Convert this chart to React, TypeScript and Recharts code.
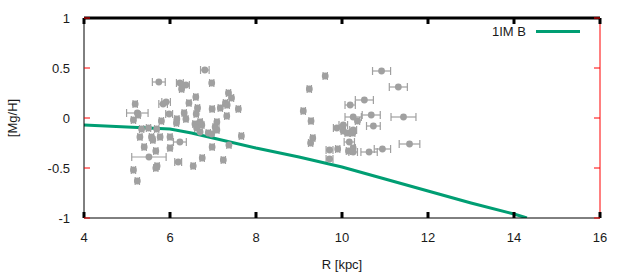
import React from 'react';
import { ComposedChart, Line, Scatter, XAxis, YAxis, ErrorBar, Legend } from 'recharts';

const xTicks = [4, 6, 8, 10, 12, 14, 16];
const yTicks = [-1, -0.5, 0, 0.5, 1];

const modelName = '1IM B';
const modelColor = '#009e73';
const modelR = [4, 5, 5.5, 6, 6.5, 7, 8, 9, 10, 11, 12, 13, 14, 14.3];
const modelMgH = [-0.07, -0.09, -0.1, -0.11, -0.15, -0.2, -0.3, -0.39, -0.49, -0.61, -0.73, -0.85, -0.96, -1.0];

const starR = [6.81, 5.74, 6.23, 6.37, 6.27, 6.97, 7.36, 7.43, 6.6, 5.19, 5.91, 5.84, 6.44, 7.29, 7.33, 6.64, 6.98, 7.17, 7.59, 5.24, 5.26, 5.98, 6.33, 6.61, 7.32, 5.15, 5.8, 6.16, 6.37, 6.15, 6.7, 6.58, 6.74, 7.09, 7.05, 6.62, 6.7, 5.34, 5.5, 5.69, 7.09, 6.89, 6.97, 5.3, 5.57, 5.77, 6.0, 5.6, 6.23, 7.66, 5.4, 6.0, 6.98, 7.37, 5.67, 5.51, 6.75, 7.24, 6.19, 6.54, 5.7, 5.67, 5.15, 5.24,
  10.92, 9.61, 11.31, 9.24, 10.52, 10.19, 9.1, 9.28, 11.43, 10.26, 10.36, 10.68, 10.73, 10.03, 9.88, 10.03, 10.12, 10.25, 10.26, 9.32, 9.27, 10.17, 11.57, 9.9, 9.71, 10.15, 10.26, 10.26, 10.63, 10.94, 9.71];
const starMgH = [0.48, 0.36, 0.35, 0.33, 0.29, 0.35, 0.25, 0.2, 0.21, 0.14, 0.16, 0.14, 0.15, 0.15, 0.13, 0.1, 0.09, 0.1, 0.09, 0.05, 0.03, 0.04, 0.05, 0.04, 0.02, -0.02, -0.03, -0.01, -0.01, -0.05, -0.04, -0.06, -0.07, -0.04, -0.09, -0.1, -0.14, -0.11, -0.1, -0.11, -0.12, -0.15, -0.16, -0.19, -0.19, -0.19, -0.19, -0.22, -0.24, -0.18, -0.29, -0.3, -0.29, -0.27, -0.33, -0.39, -0.4, -0.42, -0.44, -0.48, -0.48, -0.5, -0.52, -0.63,
  0.47, 0.42, 0.31, 0.29, 0.18, 0.13, 0.07, -0.03, 0.01, 0.01, -0.03, 0.03, -0.08, -0.07, -0.1, -0.13, -0.15, -0.15, -0.12, -0.2, -0.25, -0.24, -0.26, -0.31, -0.32, -0.33, -0.3, -0.34, -0.34, -0.31, -0.41];
const starRErr = [0.1, 0.15, 0.08, 0.08, 0.05, 0.05, 0.05, 0.05, 0.05, 0.05, 0.1, 0.1, 0.05, 0.05, 0.05, 0.05, 0.05, 0.05, 0.05, 0.25, 0.05, 0.08, 0.05, 0.05, 0.05, 0.05, 0.05, 0.05, 0.05, 0.05, 0.05, 0.05, 0.05, 0.05, 0.05, 0.05, 0.05, 0.05, 0.05, 0.05, 0.05, 0.05, 0.05, 0.05, 0.05, 0.05, 0.05, 0.05, 0.15, 0.05, 0.05, 0.05, 0.05, 0.05, 0.05, 0.4, 0.05, 0.05, 0.08, 0.05, 0.05, 0.05, 0.05, 0.05,
  0.21, 0.05, 0.21, 0.05, 0.21, 0.12, 0.05, 0.05, 0.29, 0.19, 0.05, 0.21, 0.16, 0.1, 0.08, 0.05, 0.05, 0.05, 0.08, 0.05, 0.05, 0.12, 0.24, 0.05, 0.08, 0.05, 0.05, 0.1, 0.19, 0.19, 0.08];

const modelData = modelR.map((x, i) => ({ x, y: modelMgH[i] }));
const starData = starR.map((x, i) => ({ x, y: starMgH[i], xErr: starRErr[i] }));

const FONT = '"Liberation Sans", Arial, sans-serif';
const TEXT = '#1a1a1a';
const FRAME = '#000';
const TICK_LEN = 6;
const XM = 14;
const YM = 14;

const BottomTick = (p: any) => (
  <g>
    <line x1={p.x} x2={p.x} y1={p.y - XM} y2={p.y - XM - TICK_LEN} stroke={FRAME} strokeWidth={3} />
    <text x={p.x} y={p.y} dy={10} textAnchor="middle" fontFamily={FONT} fontSize={13} fill={TEXT}>{p.payload.value}</text>
  </g>
);
const LeftTick = (p: any) => (
  <g>
    <line x1={p.x + YM} x2={p.x + YM + TICK_LEN} y1={p.y} y2={p.y} stroke="red" strokeWidth={1} />
    <text x={p.x} y={p.y} dy={4.5} textAnchor="end" fontFamily={FONT} fontSize={13} fill={TEXT}>{String(p.payload.value)}</text>
  </g>
);
const TopTick = (p: any) => (
  <line x1={p.x} x2={p.x} y1={p.y} y2={p.y + TICK_LEN} stroke={FRAME} strokeWidth={3} />
);
const RightTick = (p: any) => (
  <line x1={p.x} x2={p.x - TICK_LEN} y1={p.y} y2={p.y} stroke="red" strokeWidth={1} />
);
const Dot = (p: any) => (
  <circle cx={p.cx} cy={p.cy} r={3.4} fill="#a0a0a0" />
);

const LegendContent = (props: any) => {
  const items = (props.payload || []).filter((e: any) => e.type === 'line');
  return (
    <div>
      {items.map((e: any) => (
        <div key={e.value} style={{ display: 'flex', alignItems: 'center', fontFamily: FONT, fontSize: 13, color: TEXT }}>
          <span style={{ width: 62, textAlign: 'right' }}>{e.value}</span>
          <span style={{ display: 'inline-block', width: 44, height: 3, background: e.color, marginLeft: 10 }} />
        </div>
      ))}
    </div>
  );
};

export default function App() {
  return (
    <div style={{ position: 'absolute', left: 0, top: 0, width: 630, height: 280, background: '#fff' }}>
      <ComposedChart width={630} height={280} margin={{ top: 17, right: 29, bottom: 32, left: 0 }}>
        <XAxis xAxisId="b" type="number" dataKey="x" domain={[4, 16]} ticks={xTicks} allowDataOverflow
          orientation="bottom" height={30} tickSize={0} tickMargin={XM} tick={<BottomTick />}
          axisLine={{ stroke: FRAME }} tickLine={false}
          label={{ value: 'R [kpc]', position: 'insideBottom', offset: -21, fontFamily: FONT, fontSize: 13, fill: TEXT }} />
        <XAxis xAxisId="t" type="number" dataKey="x" domain={[4, 16]} ticks={xTicks} allowDataOverflow
          orientation="top" height={1} tickSize={0} tickMargin={0} tick={<TopTick />}
          axisLine={{ stroke: FRAME, strokeWidth: 3 }} tickLine={false} />
        <YAxis yAxisId="l" type="number" domain={[-1, 1]} ticks={yTicks} allowDataOverflow
          width={84} tickSize={0} tickMargin={YM} tick={<LeftTick />}
          axisLine={{ stroke: FRAME }} tickLine={false}
          label={{ value: '[Mg/H]', angle: -90, position: 'insideLeft', offset: 12, fontFamily: FONT, fontSize: 13, fill: TEXT, style: { textAnchor: 'middle' } }} />
        <YAxis yAxisId="r" orientation="right" type="number" domain={[-1, 1]} ticks={yTicks} allowDataOverflow
          width={1} tickSize={0} tickMargin={0} tick={<RightTick />}
          axisLine={{ stroke: 'red', strokeWidth: 1 }} tickLine={false} />
        <Scatter xAxisId="b" yAxisId="l" data={starData} dataKey="y" shape={<Dot />} legendType="none" isAnimationActive={false}>
          <ErrorBar dataKey="xErr" direction="x" width={4} stroke="#a0a0a0" strokeWidth={1.2} />
        </Scatter>
        <Line xAxisId="b" yAxisId="l" data={modelData} dataKey="y" name={modelName} type="linear" stroke={modelColor} strokeWidth={3} dot={false} isAnimationActive={false} />
        <Legend layout="horizontal" verticalAlign="middle" align="center" content={<LegendContent />}
          wrapperStyle={{ position: 'absolute', top: 24, left: 464, width: 130, height: 18 }} />
      </ComposedChart>
    </div>
  );
}
